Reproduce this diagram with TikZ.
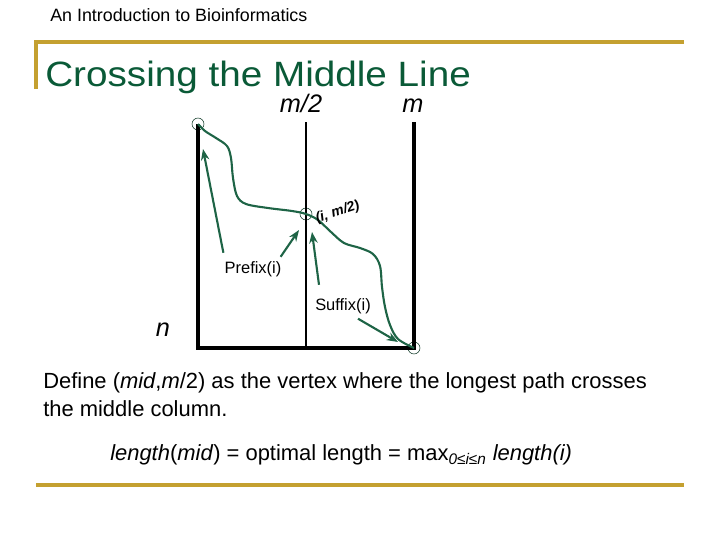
\documentclass[tikz,border=0pt]{standalone}
\usepackage{fontspec}
\setmainfont{Liberation Sans}
\usepackage{xcolor}
\usetikzlibrary{arrows.meta,positioning}
\definecolor{goldline}{RGB}{196,160,48}
\definecolor{titlegreen}{RGB}{10,90,55}
\definecolor{pathgreen}{RGB}{30,100,70}

\begin{document}
\begin{tikzpicture}[
    x=0.025cm, y=-0.025cm,
    rule/.style={goldline, line width=2.2pt},
    col/.style={black, line width=2.2pt},
    midcol/.style={black, line width=1.1pt},
    vertex/.style={draw=pathgreen!60!black, circle, inner sep=0pt, minimum size=8.5pt, line width=0.4pt},
    route/.style={pathgreen, line width=1.5pt},
    arrow/.style={-{Stealth[length=8pt,width=6pt]}, pathgreen, line width=1.5pt},
    lbl/.style={font=\fontsize{11.7}{14}\selectfont, inner sep=0pt},
    axis/.style={font=\fontsize{18}{20}\selectfont\itshape, inner sep=0pt},
    body/.style={font=\fontsize{15.6}{20}\selectfont, inner sep=0pt, anchor=base west}
]
    \useasboundingbox (0,0) rectangle (720,540);

    % Slide frame
    \node[anchor=base west, inner sep=0pt, font=\fontsize{12.7}{15}\selectfont] (header) at (50,21) {An Introduction to Bioinformatics};
    \draw[rule] (36,89) -- (36,42) -- (684,42);
    \draw[rule] (36,485) -- (684,485);
    \node[anchor=base west, inner sep=0pt, titlegreen, font=\fontsize{25}{30}\selectfont] (title) at (45,86) {\scalebox{1.1}[1]{Crossing the Middle Line}};

    % Grid columns
    \node[vertex] (start) at (198,124) {};
    \node[vertex] (cross) at (306,214) {};
    \node[vertex] (finish) at (414,348) {};
    \coordinate (corner) at (198,348);
    \coordinate (midtop) at (306,122);
    \coordinate (midbot) at (306,348);
    \coordinate (righttop) at (414,122);
    \draw[col] (start.center) -- (corner) -- (finish.center) -- (righttop);
    \draw[midcol] (midtop) -- (midbot);

    \node[axis, anchor=base] (half) at (301,112) {m/2};
    \node[axis, anchor=base] (full) at (413,112) {m};
    \node[axis, anchor=base] (rows) at (163,336) {n};

    % Longest path
    \draw[route] plot[smooth, tension=0.55] coordinates {(start.center) (205,131) (216,138) (227,146) (231,158) (233,178) (237,196) (246,204) (268,208) (292,211) (cross.center) (318,220) (331,232) (344,243) (360,248) (373,254) (380,266) (382,287) (385,307) (390,325) (398,339) (finish.center)};
    \node[font=\fontsize{10}{12}\selectfont\bfseries\itshape, inner sep=0pt, anchor=base west, rotate=18] (crosslbl) at (317,223) {(i, m/2)};

    % Prefix and suffix labels
    \node[lbl, anchor=base] (prefix) at (253,273) {Prefix(i)};
    \node[lbl, anchor=base] (suffix) at (343,310) {Suffix(i)};
    \coordinate (ptip1) at (203,149);
    \coordinate (ptip2) at (299,230);
    \coordinate (stip1) at (312,232);
    \coordinate (stip2) at (398,342);
    \draw[arrow] ([shift={(-1,-8)}]prefix.north west) -- (ptip1);
    \draw[arrow] ([shift={(-1,-4)}]prefix.north east) -- (ptip2);
    \draw[arrow] ([shift={(4,-13)}]suffix.north west) -- (stip1);
    \draw[arrow] ([shift={(-13,5)}]suffix.south east) -- (stip2);

    % Text below
    \node[body] (define) at (43,388) {Define (\textit{mid},\textit{m}/2) as the vertex where the longest path crosses};
    \node[body] (define2) at (43,416) {the middle column.};
    \node[body] (formula) at (110,460) {\textit{length}(\textit{mid}) = optimal length = max\textsubscript{\textit{0≤i≤n}} \textit{length(i)}};
\end{tikzpicture}
\end{document}
